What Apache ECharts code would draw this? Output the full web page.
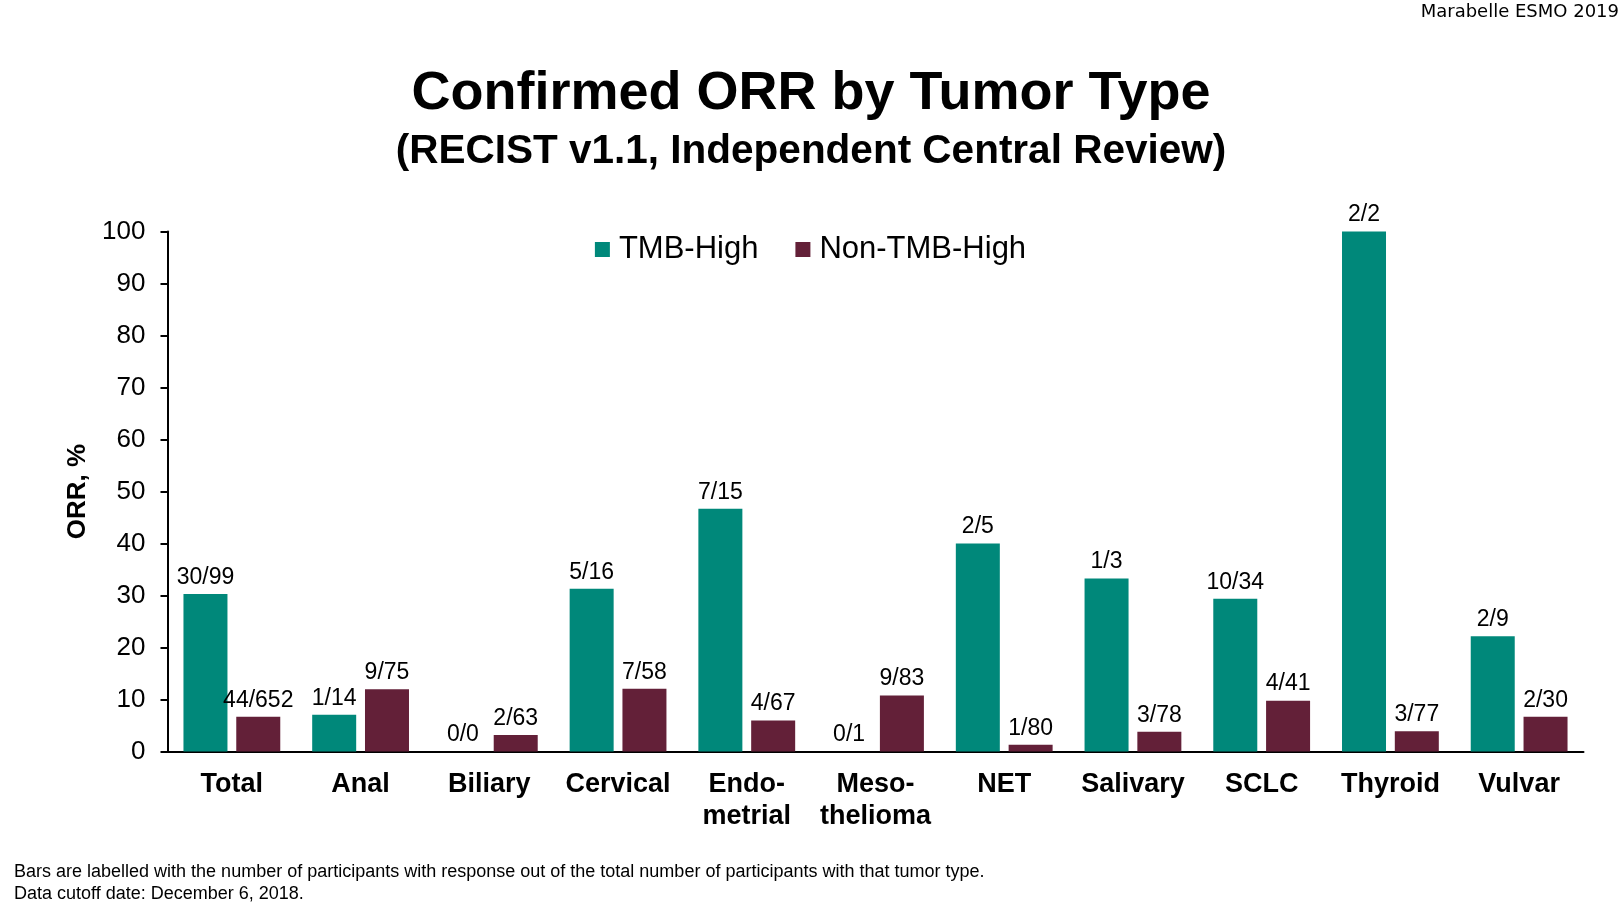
<!DOCTYPE html>
<html>
<head>
<meta charset="utf-8">
<script src="https://cdn.jsdelivr.net/npm/echarts@6/dist/echarts.min.js"></script>
<style>html,body{margin:0;padding:0;background:#fff}#c{width:1621px;height:909px}</style>
</head>
<body>
<div id="c"></div>
<script>
const categories = ['Total', 'Anal', 'Biliary', 'Cervical', 'Endo-\nmetrial', 'Meso-\nthelioma', 'NET', 'Salivary', 'SCLC', 'Thyroid', 'Vulvar'];
const tmbHigh = [30.3, 7.1, 0, 31.3, 46.7, 0, 40.0, 33.3, 29.4, 100, 22.2];
const nonTmbHigh = [6.7, 12.0, 3.2, 12.1, 6.0, 10.8, 1.3, 3.8, 9.8, 3.9, 6.7];
const tmbHighLabels = ['30/99', '1/14', '0/0', '5/16', '7/15', '0/1', '2/5', '1/3', '10/34', '2/2', '2/9'];
const nonTmbHighLabels = ['44/652', '9/75', '2/63', '7/58', '4/67', '9/83', '1/80', '3/78', '4/41', '3/77', '2/30'];
const yTicks = [0, 10, 20, 30, 40, 50, 60, 70, 80, 90, 100];

const FONT = 'Liberation Sans, Arial, sans-serif';
const chart = echarts.init(document.getElementById('c'), null, {renderer: 'canvas'});
chart.setOption({
  backgroundColor: '#fff',
  animation: false,
  textStyle: {fontFamily: FONT, color: '#000'},
  grid: {left: 167.5, right: 37.5, top: 231.6, bottom: 157.4, containLabel: false},
  legend: {
    top: 229, left: 'center',
    itemWidth: 15, itemHeight: 15, itemGap: 37,
    icon: 'rect',
    textStyle: {fontSize: 31, color: '#000', fontFamily: FONT, padding: [0, 0, 0, 4]},
    data: ['TMB-High', 'Non-TMB-High']
  },
  xAxis: {
    type: 'category',
    data: categories,
    axisLine: {lineStyle: {color: '#000', width: 2}},
    axisTick: {show: false},
    axisLabel: {fontSize: 27, fontWeight: 'bold', color: '#000', margin: 17, lineHeight: 32, fontFamily: FONT, interval: 0}
  },
  yAxis: {
    type: 'value',
    min: yTicks[0], max: yTicks[yTicks.length - 1], interval: 10,
    name: 'ORR, %',
    nameLocation: 'middle',
    nameGap: 77,
    nameRotate: 90,
    nameTextStyle: {fontSize: 26, fontWeight: 'bold', color: '#000', fontFamily: FONT},
    axisLine: {show: true, lineStyle: {color: '#000', width: 2}},
    axisTick: {show: true, length: 7, lineStyle: {color: '#000', width: 2}},
    splitLine: {show: false},
    axisLabel: {fontSize: 26, color: '#000', margin: 22, fontFamily: FONT}
  },
  series: [
    {
      name: 'TMB-High', type: 'bar', data: tmbHigh,
      barWidth: 44, barGap: '20%',
      itemStyle: {color: '#00887A'},
      label: {show: true, position: 'top', distance: 5, fontSize: 23, color: '#000', fontFamily: FONT,
        formatter: p => tmbHighLabels[p.dataIndex]}
    },
    {
      name: 'Non-TMB-High', type: 'bar', data: nonTmbHigh,
      barWidth: 44,
      itemStyle: {color: '#632038'},
      label: {show: true, position: 'top', distance: 5, fontSize: 23, color: '#000', fontFamily: FONT,
        formatter: p => nonTmbHighLabels[p.dataIndex]}
    }
  ],
  graphic: [
    {type: 'text', right: 2, top: 3, style: {text: 'Marabelle ESMO 2019', fontSize: 18, fontFamily: 'DejaVu Sans, sans-serif', fill: '#000', letterSpacing: 2.8}},
    {type: 'text', x: 811, y: 94, style: {text: 'Confirmed ORR by Tumor Type', fontSize: 54, fontWeight: 'bold', fontFamily: FONT, fill: '#000', textAlign: 'center', textVerticalAlign: 'middle'}},
    {type: 'text', x: 811, y: 152, style: {text: '(RECIST v1.1, Independent Central Review)', fontSize: 40.5, fontWeight: 'bold', fontFamily: FONT, fill: '#000', textAlign: 'center', textVerticalAlign: 'middle'}},
    {type: 'text', x: 14, y: 872, style: {text: 'Bars are labelled with the number of participants with response out of the total number of participants with that tumor type.', fontSize: 18, fontFamily: FONT, fill: '#000', textVerticalAlign: 'middle'}},
    {type: 'text', x: 14, y: 894, style: {text: 'Data cutoff date: December 6, 2018.', fontSize: 18, fontFamily: FONT, fill: '#000', textVerticalAlign: 'middle'}}
  ]
});
</script>
</body>
</html>
